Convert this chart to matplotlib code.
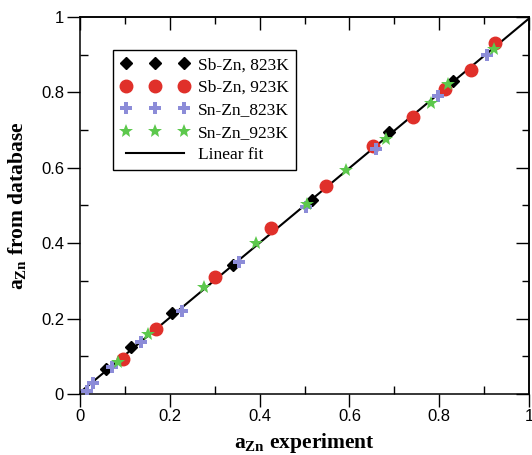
import numpy as np
import matplotlib
matplotlib.use("Agg")
import matplotlib.pyplot as plt
from matplotlib.ticker import MultipleLocator

plt.rcParams['mathtext.fontset'] = 'custom'
plt.rcParams['mathtext.rm'] = 'Liberation Serif:bold'
plt.rcParams['mathtext.bf'] = 'Liberation Serif:bold'
plt.rcParams['mathtext.it'] = 'Liberation Serif:bold'

# Sb-Zn, 823K
sb823_x = [0.058, 0.114, 0.204, 0.341, 0.516, 0.689, 0.830]
sb823_y = [0.066, 0.125, 0.216, 0.341, 0.515, 0.696, 0.831]
# Sb-Zn, 923K
sb923_x = [0.095, 0.169, 0.301, 0.426, 0.547, 0.653, 0.742, 0.814, 0.870, 0.924]
sb923_y = [0.092, 0.172, 0.310, 0.440, 0.553, 0.659, 0.736, 0.808, 0.859, 0.932]
# Sn-Zn_823K
sn823_x = [0.015, 0.030, 0.071, 0.136, 0.228, 0.355, 0.503, 0.659, 0.797, 0.906]
sn823_y = [0.009, 0.028, 0.072, 0.137, 0.221, 0.351, 0.496, 0.650, 0.790, 0.899]
# Sn-Zn_923K
sn923_x = [0.085, 0.152, 0.277, 0.392, 0.505, 0.592, 0.681, 0.781, 0.820, 0.921]
sn923_y = [0.086, 0.158, 0.285, 0.400, 0.504, 0.594, 0.676, 0.771, 0.822, 0.914]

labels = ['Sb-Zn, 823K', 'Sb-Zn, 923K', 'Sn-Zn_823K', 'Sn-Zn_923K', 'Linear fit']
tick_vals = [0, 0.2, 0.4, 0.6, 0.8, 1]
tick_labels = ['0', '0.2', '0.4', '0.6', '0.8', '1']

fig = plt.figure(figsize=(5.32, 4.55), dpi=100)
ax = fig.add_axes([80/532, 61/455, 449/532, 377/455])

red = '#e0302a'
blue = '#8c8cd8'
green = '#5cc84c'

ax.plot(sb823_x, sb823_y, 'D', color='black', ms=6.2, ls='none', label=labels[0], zorder=3)
ax.plot(sb923_x, sb923_y, 'o', color=red, ms=9, ls='none', label=labels[1], zorder=3)
ax.plot(sn823_x, sn823_y, 'P', color=blue, ms=8.5, mew=0, ls='none', label=labels[2], zorder=3)
ax.plot(sn923_x, sn923_y, '*', color=green, ms=10, mew=0, ls='none', label=labels[3], zorder=3)

all_x = np.concatenate([sb823_x, sb923_x, sn823_x, sn923_x])
all_y = np.concatenate([sb823_y, sb923_y, sn823_y, sn923_y])
slope, intercept = np.polyfit(all_x, all_y, 1)
fx = np.array([0.0, 1.0])
ax.plot(fx, slope*fx + intercept, '-', color='black', lw=1.5, label=labels[4], zorder=2)

ax.set_xlim(0, 1)
ax.set_ylim(0, 1)
ax.set_xticks(tick_vals)
ax.set_xticklabels(tick_labels, family='Liberation Sans')
ax.set_yticks(tick_vals)
ax.set_yticklabels(tick_labels, family='Liberation Sans')
ax.xaxis.set_minor_locator(MultipleLocator(0.1))
ax.yaxis.set_minor_locator(MultipleLocator(0.1))

for sp in ax.spines.values():
    sp.set_linewidth(1.1)

ax.tick_params(which='major', direction='out', length=9.5, width=1.0, labelsize=12)
ax.tick_params(axis='x', which='major', pad=1)
ax.tick_params(axis='y', which='major', pad=2)
ax.tick_params(which='minor', direction='in', length=6, width=1.0)

secx = ax.secondary_xaxis('top')
secx.set_xticks(tick_vals)
secx.xaxis.set_minor_locator(MultipleLocator(0.1))
secx.tick_params(which='major', direction='in', length=9.5, width=1.0, labeltop=False)
secx.tick_params(which='minor', direction='in', length=5, width=1.0)
secx.spines['top'].set_linewidth(1.1)

secy = ax.secondary_yaxis('right')
secy.set_yticks(tick_vals)
secy.yaxis.set_minor_locator(MultipleLocator(0.1))
secy.tick_params(which='major', direction='in', length=9.5, width=1.0, labelright=False)
secy.tick_params(which='minor', direction='in', length=5, width=1.0)
secy.spines['right'].set_linewidth(1.1)

ax.set_xlabel(r'a$_{\mathbf{Zn}}$ experiment', fontsize=15.5, fontweight='bold',
              family='Liberation Serif', labelpad=5.5)
ax.set_ylabel(r'a$_{\mathbf{Zn}}$ from database', fontsize=15.5, fontweight='bold',
              family='Liberation Serif', labelpad=9.5)

leg = ax.legend(loc='upper left', bbox_to_anchor=(33/449, 1 - 33/377), numpoints=3,
                prop={'family': 'Liberation Serif', 'size': 12.5},
                frameon=True, fancybox=False, edgecolor='black', framealpha=1,
                borderpad=0.42, labelspacing=0.36, handlelength=3.95, handletextpad=0.5,
                borderaxespad=0)
leg.get_frame().set_linewidth(1.0)

fig.savefig('out.png', dpi=100)
